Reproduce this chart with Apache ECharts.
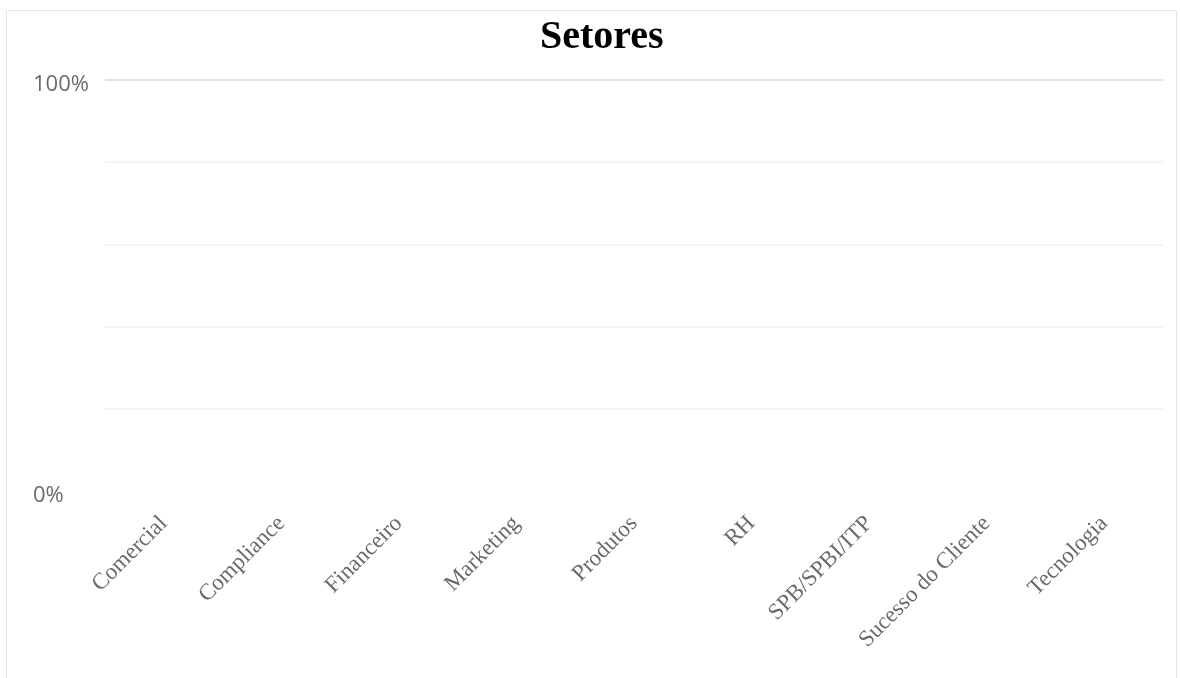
<!DOCTYPE html>
<html>
<head>
<meta charset="utf-8">
<script src="https://cdn.jsdelivr.net/npm/echarts@6/dist/echarts.min.js"></script>
<style>
html,body{margin:0;padding:0;background:#fff;}
#c{width:1180px;height:678px;}
</style>
</head>
<body>
<div id="c"></div>
<script>
const categories = ['Comercial','Compliance','Financeiro','Marketing','Produtos','RH','SPB/SPBI/ITP','Sucesso do Cliente','Tecnologia'];
const values = [0,0,0,0,0,0,0,0,0];
const yTicks = {0:'0%', 1:'100%'};

const chart = echarts.init(document.getElementById('c'), null, {renderer:'canvas'});
chart.setOption({
  animation:false,
  backgroundColor:'#fff',
  title:{
    text:'Setores', left:535, top:13,
    textStyle:{fontFamily:'Liberation Serif', fontWeight:'bold', fontSize:40, color:'#000'}
  },
  graphic:[{
    type:'rect', shape:{x:6.5,y:10.5,width:1170,height:700},
    style:{fill:'none', stroke:'#e3e3e3', lineWidth:1}, silent:true, z:-1
  }],
  grid:{left:105, right:17, top:80, bottom:187, containLabel:false},
  xAxis:{
    type:'category', data:categories,
    axisLine:{show:false}, axisTick:{show:false},
    axisLabel:{rotate:45, margin:29, interval:0, color:'#6a6a6a', fontFamily:'Liberation Serif', fontSize:23}
  },
  yAxis:{
    type:'value', min:0, max:1, interval:0.2,
    axisLine:{show:false}, axisTick:{show:false},
    axisLabel:{align:'left', margin:72, color:'#6a6a6a', fontFamily:'Open Sans', fontSize:22,
      formatter:v => {
        const k = Math.round(v*100)/100;
        return yTicks[k] !== undefined ? '{t|' + yTicks[k] + '}' : '';
      },
      rich:{t:{fontFamily:'Open Sans', fontSize:22, color:'#6a6a6a', padding:[9,0,0,0]}}
    },
    splitLine:{lineStyle:{color:['rgba(0,0,0,0)','#f0f0f0','#f0f0f0','#f0f0f0','#f0f0f0','#d9d9d9'], width:1.5}}
  },
  series:[{type:'bar', data:values, itemStyle:{color:'#4472c4'}}]
});
</script>
</body>
</html>
